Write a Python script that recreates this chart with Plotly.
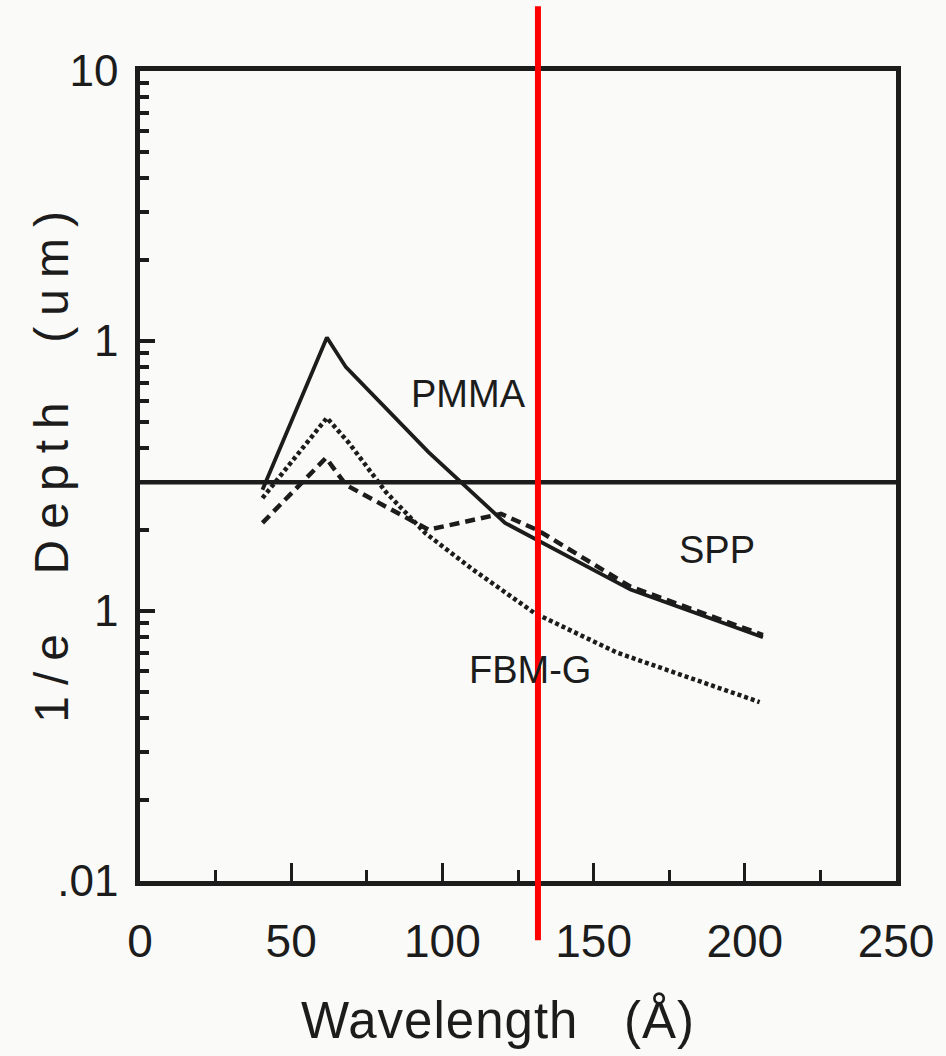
import numpy as np
import plotly.graph_objects as go

# Wavelength (Å) and 1/e absorption depth (µm) for each resist
pmma_wl = [40.5, 61.8, 68.1, 95.4, 120.7, 162.2, 206.0]
pmma_depth = [0.281, 1.03, 0.80, 0.388, 0.212, 0.120, 0.080]

spp_wl = [40.5, 61.5, 68.1, 95.4, 119.4, 131.6, 162.2, 206.0]
spp_depth = [0.212, 0.369, 0.293, 0.200, 0.229, 0.199, 0.123, 0.0815]

fbmg_wl = [40.5, 61.8, 69.1, 81.3, 94.4, 109.5, 130.6, 157.9, 204.9]
fbmg_depth = [0.262, 0.519, 0.419, 0.276, 0.194, 0.144, 0.098, 0.070, 0.046]

# reference depth level drawn across the full wavelength range
ref_depth = 0.30
wl_range = [0, 250]

# vertical marker at this wavelength
marker_wl = 131.6

x_ticks = [0, 50, 100, 150, 200, 250]
y_ticks = [0.01, 0.1, 1, 10]
y_ticktext = [".01", "1", "1", "10"]
# minor log ticks: 2..9 within each decade
y_minor = [k * 10.0 ** e for e in (-2, -1, 0) for k in range(2, 10)]

# curve labels: (text, wavelength, depth)
curve_labels = [("PMMA", 108.6, 0.636), ("SPP", 190.8, 0.168), ("FBM-G", 129.0, 0.0604)]

ink = "#1c1c1c"
paper = "#fafaf8"
font = "Liberation Sans, Arial, Helvetica, sans-serif"
nb = "\u00a0"

fig = go.Figure()

fig.add_trace(go.Scatter(x=wl_range, y=[ref_depth, ref_depth], mode="lines",
                         line=dict(color=ink, width=4.5), showlegend=False, hoverinfo="skip"))
fig.add_trace(go.Scatter(x=pmma_wl, y=pmma_depth, mode="lines", name="PMMA",
                         line=dict(color=ink, width=3.8), showlegend=False))
fig.add_trace(go.Scatter(x=spp_wl, y=spp_depth, mode="lines", name="SPP",
                         line=dict(color=ink, width=4.5, dash="10px,6px"), showlegend=False))
fig.add_trace(go.Scatter(x=fbmg_wl, y=fbmg_depth, mode="lines", name="FBM-G",
                         line=dict(color=ink, width=4.5, dash="4px,3px"), showlegend=False))

for text, wl, depth in curve_labels:
    fig.add_annotation(x=wl, y=np.log10(depth), xref="x", yref="y", text=text,
                       showarrow=False, font=dict(family=font, size=38, color=ink))

# axis titles
fig.add_annotation(xref="paper", yref="paper", x=-0.118, y=0.5185, textangle=-90,
                   xanchor="center", yanchor="middle",
                   text='<span style="letter-spacing:11px">1/e' + nb * 2 + 'Depth' + nb * 2 + '(um)</span>',
                   showarrow=False, font=dict(family=font, size=48, color=ink))
fig.add_annotation(xref="paper", yref="paper", x=0.474, y=-0.172,
                   xanchor="center", yanchor="middle",
                   text='<span style="letter-spacing:1px">Wavelength' + nb * 3 + '(Å)</span>',
                   showarrow=False, font=dict(family=font, size=51, color=ink))

fig.add_shape(type="line", xref="x", yref="paper", x0=marker_wl, x1=marker_wl,
              y0=-0.073, y1=1.08, line=dict(color="#ff0000", width=6), layer="above")

fig.update_xaxes(range=wl_range, tickvals=x_ticks, ticks="inside", ticklen=18, tickwidth=3,
                 tickcolor=ink, showline=True, linewidth=4.5, linecolor=ink, mirror=True,
                 showgrid=False, zeroline=False, ticklabelstandoff=16,
                 tickfont=dict(family=font, size=46, color=ink),
                 minor=dict(dtick=25, ticks="inside", ticklen=11, tickwidth=3, tickcolor=ink,
                            showgrid=False))
fig.update_yaxes(type="log", range=[-2, 1], tickvals=y_ticks, ticktext=y_ticktext,
                 ticks="inside", ticklen=15, tickwidth=3.5, tickcolor=ink,
                 showline=True, linewidth=4.5, linecolor=ink, mirror=True,
                 showgrid=False, zeroline=False, ticklabelstandoff=8,
                 tickfont=dict(family=font, size=44, color=ink),
                 minor=dict(tickvals=y_minor, ticks="inside", ticklen=9, tickwidth=3.5,
                            tickcolor=ink, showgrid=False))

fig.update_layout(width=946, height=1056, margin=dict(l=140, r=46, t=71, b=175),
                  paper_bgcolor=paper, plot_bgcolor=paper, showlegend=False)

fig.write_html("out.html")
